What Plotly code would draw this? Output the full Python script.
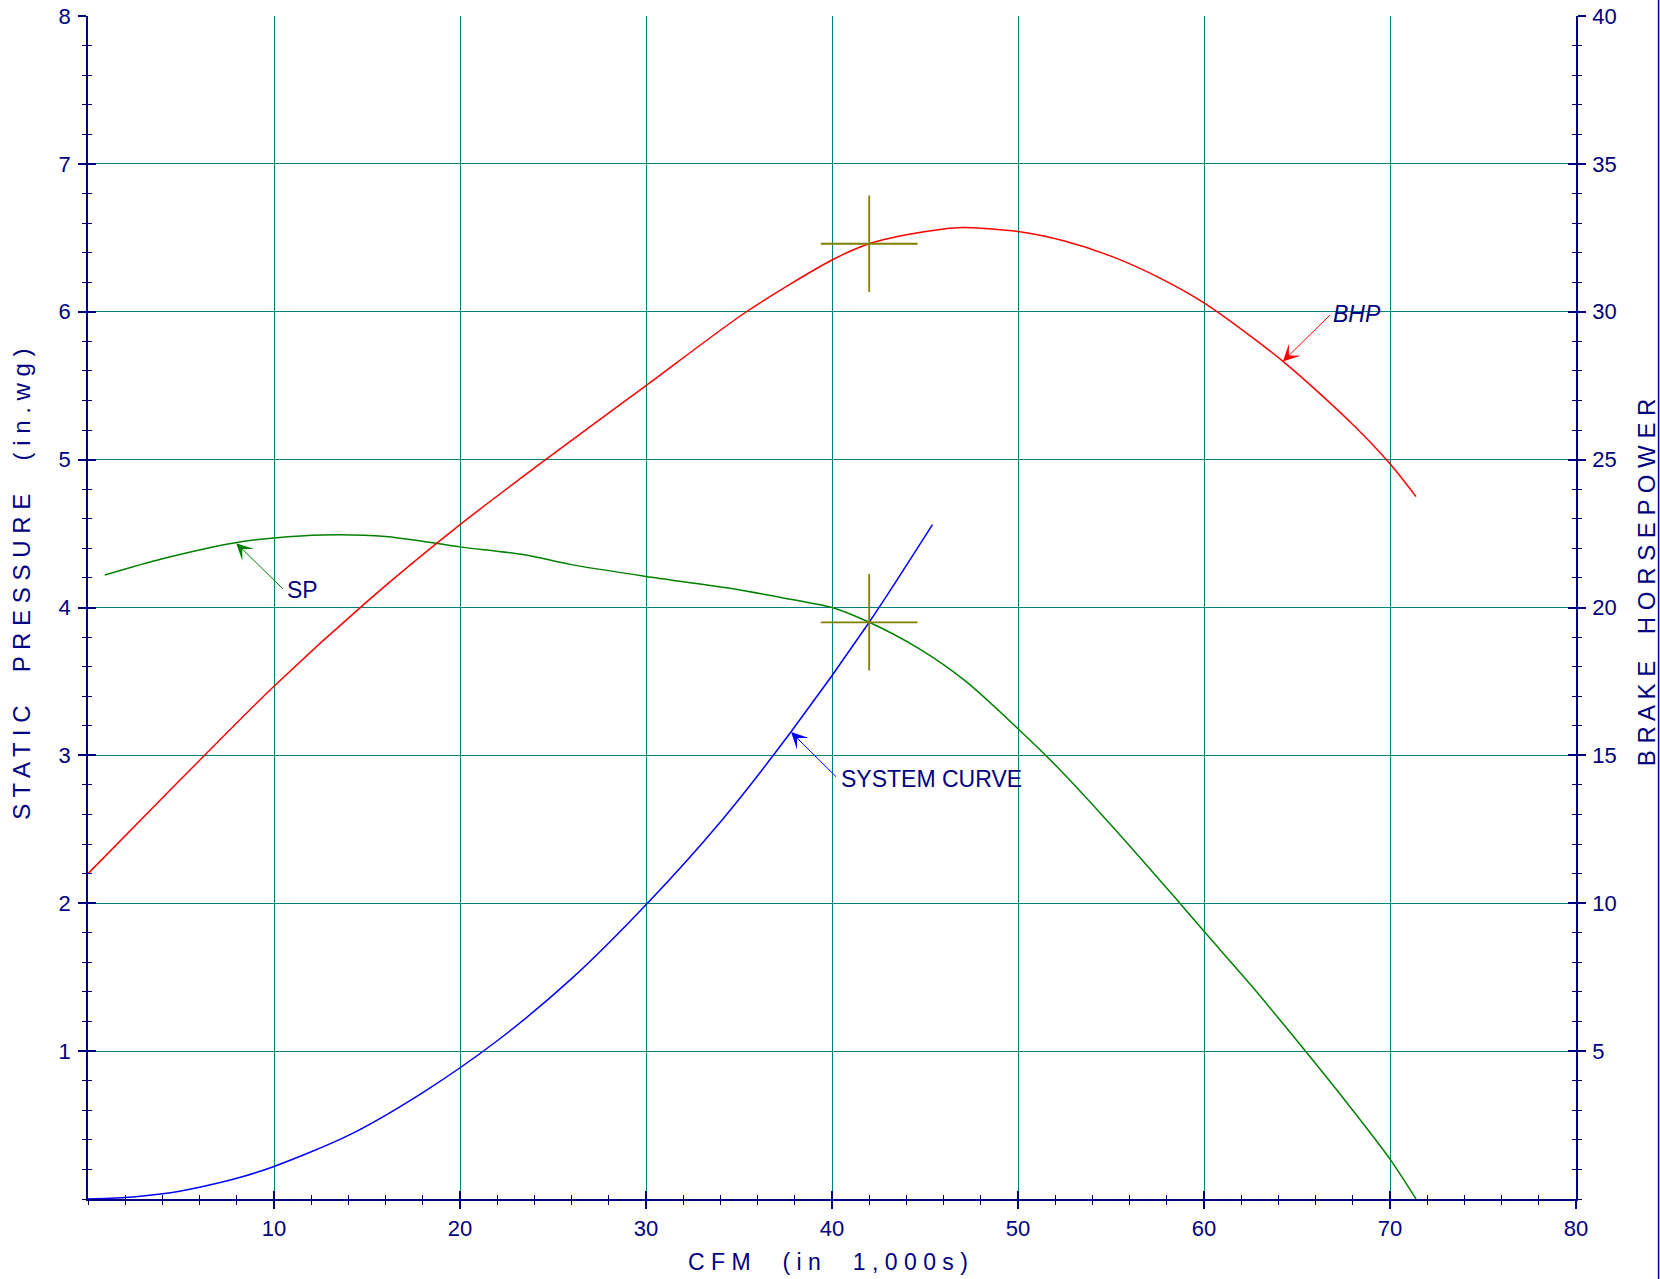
import plotly.graph_objects as go

NAVY = "#000080"
GRID = "#008080"
OLIVE = "#808000"
FONT = "Liberation Sans, Arial, sans-serif"

# ---- data (CFM in 1,000s) ----
sp_cfm = [0.9, 4, 8, 10, 12.6, 16, 20, 23.3, 26, 30, 34.5, 38, 40, 42, 44.7, 47.2, 50,
          52.2, 55, 58.5, 60, 62.5, 65, 67.5, 70, 71.4]
sp_values = [4.22, 4.33, 4.44, 4.47, 4.49, 4.48, 4.41, 4.36, 4.29, 4.21, 4.13, 4.05, 4.00,
             3.90, 3.72, 3.50, 3.18, 2.91, 2.53, 2.03, 1.81, 1.45, 1.07, 0.68, 0.27, 0.0]

bhp_cfm = [0, 5, 10, 15, 20, 24.6, 30, 35.4, 40, 42, 44, 46, 47, 50, 52.5, 55, 57.5, 60,
           64.2, 68, 70, 71.4]
bhp_values = [11.0, 14.2, 17.34, 20.2, 22.8, 25.0, 27.5, 30.0, 31.75, 32.3, 32.6, 32.8,
              32.85, 32.71, 32.39, 31.88, 31.18, 30.3, 28.35, 26.19, 24.86, 23.75]

sys_cfm = [0, 2, 4, 6, 8, 10, 14, 18, 22, 26, 30, 34, 37.8, 42, 45.4]
sys_values = [0, 0.01, 0.035, 0.08, 0.14, 0.22, 0.43, 0.72, 1.07, 1.49, 1.99, 2.55, 3.16,
              3.90, 4.56]

# operating points (crosshairs)
op_cfm = [42.0]
op_sp = [3.90]
op_bhp = [32.3]

x_ticks = [10, 20, 30, 40, 50, 60, 70, 80]
y_ticks = [1, 2, 3, 4, 5, 6, 7, 8]
y2_ticks = [5, 10, 15, 20, 25, 30, 35, 40]

fig = go.Figure()

fig.add_trace(go.Scatter(x=bhp_cfm, y=bhp_values, yaxis="y2", mode="lines",
                         line=dict(color="#ff0000", width=1.5, shape="spline", smoothing=0.8),
                         showlegend=False, hoverinfo="skip"))
fig.add_trace(go.Scatter(x=sp_cfm, y=sp_values, mode="lines",
                         line=dict(color="#008000", width=1.5, shape="spline", smoothing=0.8),
                         showlegend=False, hoverinfo="skip"))
fig.add_trace(go.Scatter(x=sys_cfm, y=sys_values, mode="lines",
                         line=dict(color="#0000ff", width=1.5, shape="spline", smoothing=0.8),
                         showlegend=False, hoverinfo="skip"))

# crosshairs drawn as error bars
fig.add_trace(go.Scatter(x=op_cfm, y=op_sp, mode="markers",
                         marker=dict(size=1, color=OLIVE),
                         error_x=dict(type="constant", value=2.6, color=OLIVE, thickness=1.8, width=0),
                         error_y=dict(type="constant", value=0.326, color=OLIVE, thickness=1.8, width=0),
                         showlegend=False, hoverinfo="skip"))
fig.add_trace(go.Scatter(x=op_cfm, y=op_bhp, yaxis="y2", mode="markers",
                         marker=dict(size=1, color=OLIVE),
                         error_x=dict(type="constant", value=2.6, color=OLIVE, thickness=1.8, width=0),
                         error_y=dict(type="constant", value=1.63, color=OLIVE, thickness=1.8, width=0),
                         showlegend=False, hoverinfo="skip"))

# empty traces for overlay axes (inside halves of crossing ticks)
fig.add_trace(go.Scatter(x=[], y=[], xaxis="x3", yaxis="y3", showlegend=False))
fig.add_trace(go.Scatter(x=[], y=[], xaxis="x3", yaxis="y4", showlegend=False))

tickfont = dict(family=FONT, size=22, color=NAVY)

common = dict(showline=True, linecolor=NAVY, linewidth=1.5, zeroline=False, automargin=False,
              ticklen=8, tickwidth=1.5, tickcolor=NAVY, tickfont=tickfont,
              ticklabeloverflow="allow")
inner = dict(showticklabels=False, showgrid=False, showline=False, zeroline=False,
             automargin=False, ticklen=8, tickwidth=1.5, tickcolor=NAVY, ticks="inside",
             tickmode="array")

fig.update_layout(
    width=1660, height=1279,
    margin=dict(l=88, r=84, t=16, b=80, autoexpand=False),
    paper_bgcolor="white", plot_bgcolor="white",
    xaxis=dict(range=[0, 80], tickmode="array", tickvals=x_ticks, ticks="outside",
               showgrid=True, gridcolor=GRID, gridwidth=1, ticklabelstandoff=1,
               minor=dict(tickmode="linear", tick0=0, dtick=2, ticks="outside", ticklen=4,
                          tickwidth=1.2, tickcolor=NAVY, showgrid=False),
               **common),
    yaxis=dict(range=[0, 8], tickmode="array", tickvals=y_ticks, ticks="outside",
               showgrid=True, gridcolor=GRID, gridwidth=1, ticklabelstandoff=3,
               minor=dict(tickmode="linear", tick0=0, dtick=0.2, ticks="outside", ticklen=4,
                          tickwidth=1.2, tickcolor=NAVY, showgrid=False),
               **common),
    yaxis2=dict(range=[0, 40], overlaying="y", side="right", anchor="x",
                tickmode="array", tickvals=y2_ticks, ticks="outside", showgrid=False,
                ticklabelstandoff=2,
                minor=dict(tickmode="linear", tick0=0, dtick=1, ticks="outside", ticklen=4,
                           tickwidth=1.2, tickcolor=NAVY, showgrid=False),
                **common),
    xaxis3=dict(range=[0, 80], overlaying="x", anchor="y", side="bottom", tickvals=x_ticks,
                minor=dict(tickmode="linear", tick0=0, dtick=2, ticks="inside", ticklen=4,
                           tickwidth=1.2, tickcolor=NAVY, showgrid=False),
                **inner),
    yaxis3=dict(range=[0, 8], overlaying="y", anchor="x", side="left", tickvals=y_ticks,
                minor=dict(tickmode="linear", tick0=0, dtick=0.2, ticks="inside", ticklen=4,
                           tickwidth=1.2, tickcolor=NAVY, showgrid=False),
                **inner),
    yaxis4=dict(range=[0, 40], overlaying="y", anchor="x", side="right", tickvals=y2_ticks,
                minor=dict(tickmode="linear", tick0=0, dtick=1, ticks="inside", ticklen=4,
                           tickwidth=1.2, tickcolor=NAVY, showgrid=False),
                **inner),
)

def spaced(words, gap):
    return ("\u00a0" * gap).join(" ".join(list(w)) for w in words)

fig.add_annotation(text=spaced(["CFM", "(in", "1,000s)"], 5), xref="paper", yref="paper",
                   x=0.4973, y=-0.0535, showarrow=False,
                   font=dict(family=FONT, size=23, color=NAVY),
                   xanchor="center", yanchor="middle")
fig.add_annotation(text=spaced(["STATIC", "PRESSURE", "(in.wg)"], 5), xref="paper", yref="paper",
                   x=-0.0444, y=0.520, showarrow=False, textangle=-90,
                   font=dict(family=FONT, size=24, color=NAVY),
                   xanchor="center", yanchor="middle")
fig.add_annotation(text=spaced(["BRAKE", "HORSEPOWER"], 4), xref="paper", yref="paper",
                   x=1.047, y=0.5213, showarrow=False, textangle=-90,
                   font=dict(family=FONT, size=24, color=NAVY),
                   xanchor="center", yanchor="middle")

# curve labels with arrows
lab_font = dict(family=FONT, size=23, color=NAVY)
fig.add_annotation(text="", x=7.97, y=4.435, ax=10.56, ay=4.116, axref="x", ayref="y",
                   xref="x", yref="y", showarrow=True, arrowhead=3, arrowsize=2.8,
                   arrowwidth=1, arrowcolor="#008000", standoff=0, startstandoff=0)
fig.add_annotation(text="SP", x=10.6, y=4.116, xref="x", yref="y", showarrow=False,
                   font=lab_font, xanchor="left", yanchor="middle")

fig.add_annotation(text="", x=37.8, y=3.158, ax=40.3, ay=2.845, axref="x", ayref="y",
                   xref="x", yref="y", showarrow=True, arrowhead=3, arrowsize=2.8,
                   arrowwidth=1, arrowcolor="#0000ff", standoff=0, startstandoff=0)
fig.add_annotation(text="SYSTEM CURVE", x=40.35, y=2.837, xref="x", yref="y", showarrow=False,
                   font=lab_font, xanchor="left", yanchor="middle")

fig.add_annotation(text="", x=64.24, y=28.32, ax=66.84, ay=29.93, axref="x", ayref="y2",
                   xref="x", yref="y2", showarrow=True, arrowhead=3, arrowsize=2.8,
                   arrowwidth=1, arrowcolor="#ff0000", standoff=0, startstandoff=0)
fig.add_annotation(text="<i>BHP</i>", x=66.85, y=29.94, xref="x", yref="y2", showarrow=False,
                   font=lab_font, xanchor="left", yanchor="middle")

# thin frame line at the right edge of the page
fig.add_shape(type="line", xref="paper", yref="paper", x0=1.0555, x1=1.0555, y0=-0.07, y1=1.015,
              line=dict(color=NAVY, width=1.5))

fig.write_html("out.html", config={"displayModeBar": False},
               post_script="document.body.style.margin='0';document.body.style.overflow='hidden';")
